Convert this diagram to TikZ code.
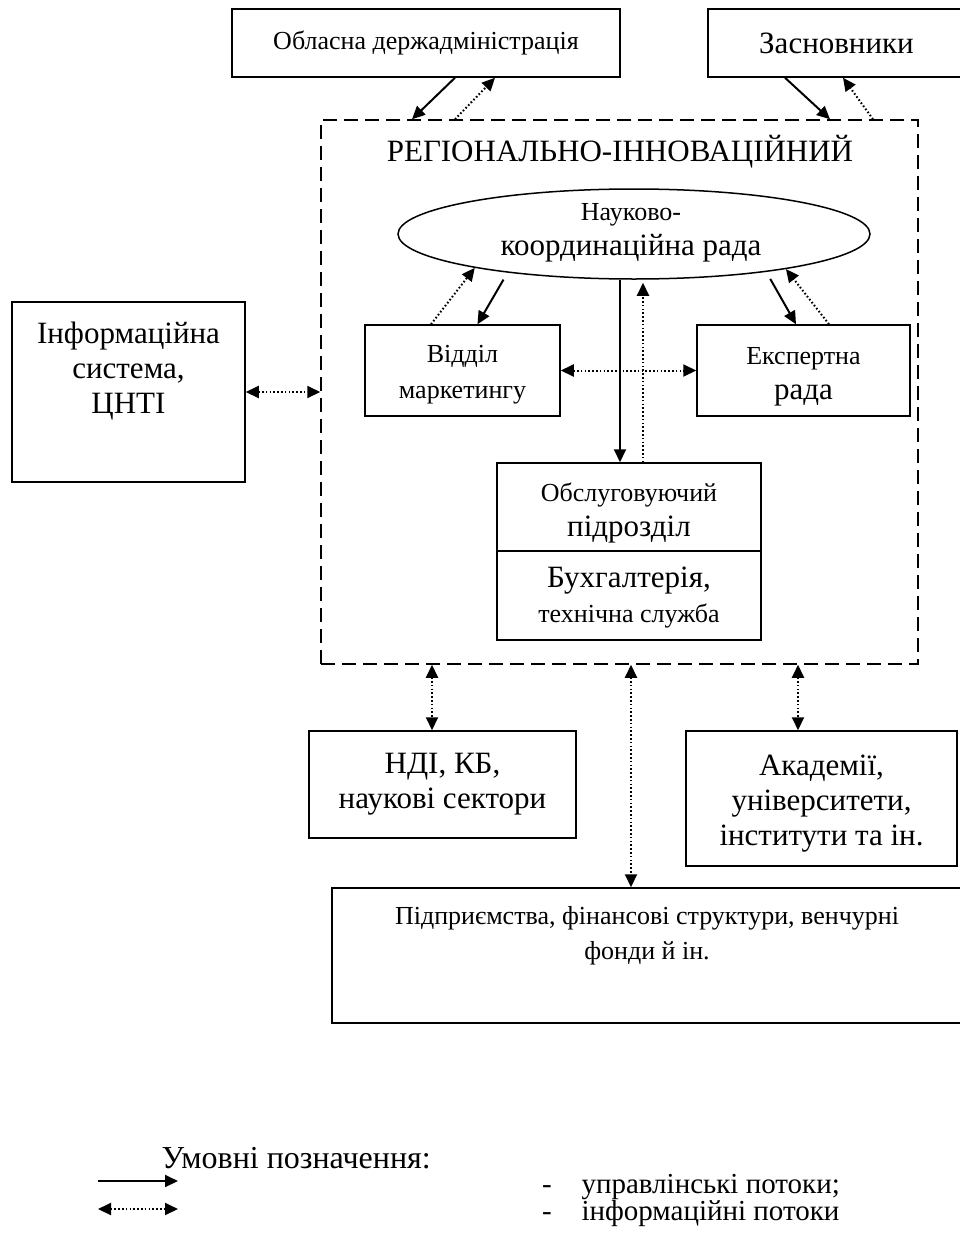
\documentclass[tikz,border=0pt]{standalone}
\usepackage{fontspec}
\setmainfont{Liberation Serif}
\usetikzlibrary{arrows.meta,shapes.geometric}
\newcommand{\smtext}{\fontsize{26}{35}\selectfont}
\newcommand{\lgtext}{\fontsize{31}{35}\selectfont}
\newcommand{\legtext}{\fontsize{29}{30}\selectfont}
\tikzset{
  unit/.style={draw,line width=1.5pt,inner sep=0pt},
  ctrl/.style={line width=2pt,-{Triangle[length=13pt,width=12pt]}},
  info/.style={line width=2pt,dash pattern=on 1.6pt off 2.2pt,
    {Triangle[length=13pt,width=12pt]}-{Triangle[length=13pt,width=12pt]}},
  infoone/.style={line width=2pt,dash pattern=on 1.6pt off 2.2pt,
    -{Triangle[length=13pt,width=12pt]}}
}

\begin{document}
\begin{tikzpicture}[x=1pt,y=-1pt]
    \clip (0,0) rectangle (960,1247);

    \node [unit,minimum width=388pt,minimum height=68pt,font=\smtext] (obl) at (426,43) {Обласна держадміністрація};
    \node [unit,minimum width=257pt,minimum height=68pt,font=\lgtext] (zasn) at (836.5,43) {Засновники};

    \node [draw,line width=1.5pt,dash pattern=on 14pt off 7pt,minimum width=597pt,minimum height=544pt] (frame) at (619.5,392) {};
    \node [font=\lgtext] (title) at (620,152) {РЕГІОНАЛЬНО-ІННОВАЦІЙНИЙ};

    \node [unit,ellipse,minimum width=472pt,minimum height=90pt] (rada) at (634,234) {};
    \node [font=\lgtext,align=center] (radatext) at (631,233) {{\smtext Науково-}\\координаційна рада};

    \node [unit,minimum width=195pt,minimum height=91pt] (vid) at (462.5,370.5) {};
    \node [font=\fontsize{26}{36}\selectfont,align=center] (vidtext) at (462.5,375) {Відділ\\маркетингу};
    \node [unit,minimum width=213pt,minimum height=91pt] (eksp) at (803.5,370.5) {};
    \node [font=\lgtext,align=center] (eksptext) at (803.5,376.5) {{\smtext Експертна}\\рада};

    \node [unit,minimum width=264pt,minimum height=88pt] (obsl) at (629,507) {};
    \node [font=\lgtext,align=center] (obsltext) at (629,513) {{\smtext Обслуговуючий}\\підрозділ};
    \node [unit,minimum width=264pt,minimum height=89pt] (buh) at (629,595.5) {};
    \node [font=\lgtext,align=center] (buhtext) at (629,598) {Бухгалтерія,\\{\smtext технічна служба}};

    \node [unit,minimum width=233pt,minimum height=180pt] (info) at (128.5,392) {};
    \node [font=\lgtext,align=center] (infotext) at (128.5,371) {Інформаційна\\система,\\ЦНТІ};

    \node [unit,minimum width=267pt,minimum height=107pt,align=center,font=\lgtext] (ndi) at (442.5,784.5) {НДІ, КБ,\\наукові сектори};
    \node [unit,minimum width=271pt,minimum height=135pt] (akad) at (821.5,798.5) {};
    \node [font=\lgtext,align=center] (akadtext) at (821.5,804) {Академії,\\університети,\\інститути та ін.};
    \node [unit,minimum width=630pt,minimum height=135pt] (pidpr) at (647,955.5) {};
    \node [font=\smtext,align=center] (pidprtext) at (647,935.5) {Підприємства, фінансові структури, венчурні\\фонди й ін.};

    \draw [ctrl] ([xshift=29pt]obl.south) -- ([xshift=-207.5pt]frame.north);
    \draw [infoone] ([xshift=-164.5pt]frame.north) -- ([xshift=69pt]obl.south);
    \draw [ctrl] ([xshift=-51.5pt]zasn.south) -- ([xshift=210.5pt]frame.north);
    \draw [infoone] ([xshift=253.5pt]frame.north) -- ([xshift=6.5pt]zasn.south);

    \draw [infoone] ([xshift=-31.5pt]vid.north) -- (rada.192);
    \draw [ctrl,shorten <=8pt] (rada.197) -- ([xshift=15pt]vid.north);
    \draw [ctrl,shorten <=8pt] (rada.344) -- ([xshift=-7.5pt]eksp.north);
    \draw [infoone] ([xshift=25.5pt]eksp.north) -- (rada.347.5);
    \draw [ctrl] ([xshift=-14pt]rada.south) -- ([xshift=-9pt]obsl.north);
    \draw [infoone,shorten >=3pt] ([xshift=14pt]obsl.north) -- ([xshift=9pt]rada.south);
    \draw [info] (vid.east) -- (eksp.west);

    \draw [info] (info.east) -- (frame.west);
    \draw [info] ([xshift=-187.5pt]frame.south) -- ([xshift=-10.5pt]ndi.north);
    \draw [info] ([xshift=11.5pt]frame.south) -- ([xshift=-16pt]pidpr.north);
    \draw [info] ([xshift=178.5pt]frame.south) -- ([xshift=-23.5pt]akad.north);

    \node [font=\fontsize{32}{32}\selectfont,anchor=base west] (legtitle) at (158,1168) {Умовні позначення:};
    \coordinate (ctrlA) at (98,1181);
    \coordinate (ctrlB) at (178,1181);
    \draw [ctrl] (ctrlA) -- (ctrlB);
    \node [font=\legtext,anchor=base] (ctrldash) at (547,1193) {-};
    \node [font=\legtext,anchor=base west] (ctrltext) at (578,1193) {управлінські потоки;};
    \coordinate (infoA) at (98,1209);
    \coordinate (infoB) at (178,1209);
    \draw [info] (infoA) -- (infoB);
    \node [font=\legtext,anchor=base] (infodash) at (547,1220) {-};
    \node [font=\legtext,anchor=base west] (infotext2) at (578,1220) {інформаційні потоки};
\end{tikzpicture}
\end{document}
